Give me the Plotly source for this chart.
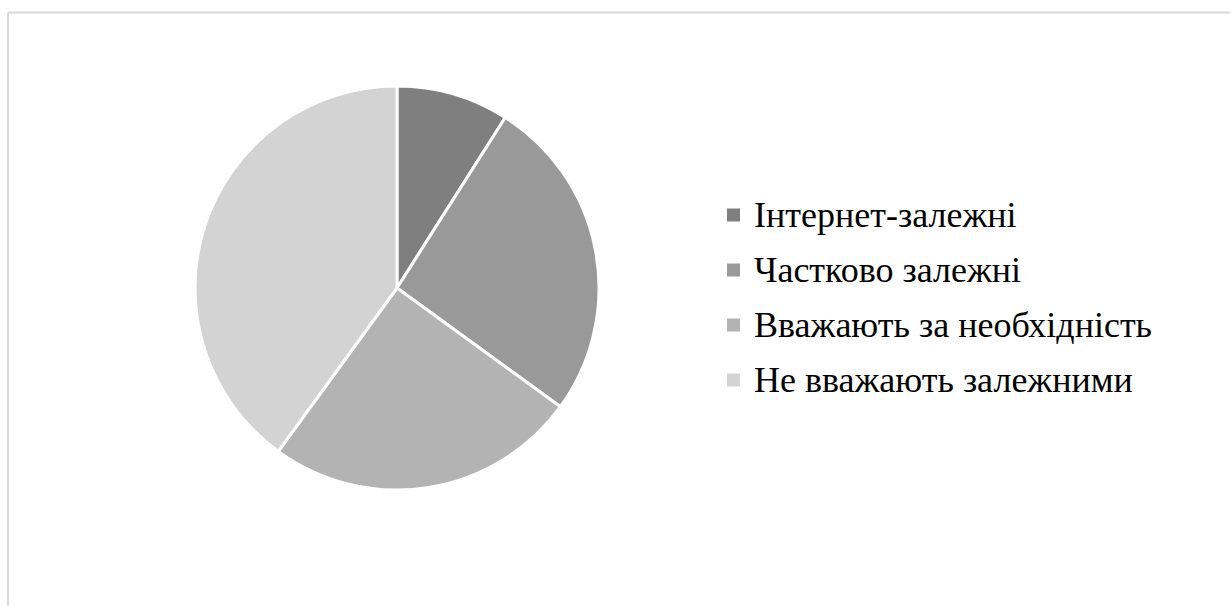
import plotly.graph_objects as go

W, H = 1231, 606

labels = ["Інтернет-залежні", "Частково залежні", "Вважають за необхідність", "Не вважають залежними"]
values = [9, 26, 25, 40]
colors = ["#7f7f7f", "#999999", "#b3b3b3", "#d3d3d3"]

cx, cy, r = 397, 288, 202  # pie centre (px from left/top) and radius

fig = go.Figure(go.Pie(
    labels=labels,
    values=values,
    sort=False,
    direction="clockwise",
    rotation=0,
    textinfo="none",
    hoverinfo="label+percent",
    showlegend=False,
    marker=dict(colors=colors, line=dict(color="#ffffff", width=3)),
    domain=dict(x=[(cx - r) / W, (cx + r) / W],
                y=[(H - cy - r) / H, (H - cy + r) / H]),
))

# legend drawn as swatches + labels on the right
row0, row_step = 215, 55      # px from top
sw_x0, sw_size, txt_x = 727, 13, 752

shapes = [
    dict(type="line", xref="paper", yref="paper",
         x0=8 / W, x1=1230 / W, y0=(H - 12.5) / H, y1=(H - 12.5) / H,
         line=dict(color="#d9d9d9", width=2)),
    dict(type="line", xref="paper", yref="paper",
         x0=8 / W, x1=8 / W, y0=(H - 12.5) / H, y1=0,
         line=dict(color="#d9d9d9", width=2)),
]
annotations = []
for i, (lab, col) in enumerate(zip(labels, colors)):
    yc = row0 + i * row_step
    shapes.append(dict(type="rect", xref="paper", yref="paper",
                       x0=sw_x0 / W, x1=(sw_x0 + sw_size) / W,
                       y0=(H - yc - sw_size / 2) / H, y1=(H - yc + sw_size / 2) / H,
                       fillcolor=col, line=dict(width=0)))
    annotations.append(dict(xref="paper", yref="paper", x=txt_x / W, y=(H - yc) / H,
                            xanchor="left", yanchor="middle", text=lab,
                            showarrow=False,
                            font=dict(family="Liberation Serif", size=36, color="#000000")))

fig.update_layout(
    width=W, height=H,
    margin=dict(l=0, r=0, t=0, b=0),
    paper_bgcolor="#ffffff",
    plot_bgcolor="#ffffff",
    shapes=shapes,
    annotations=annotations,
)

fig.write_html("out.html")
